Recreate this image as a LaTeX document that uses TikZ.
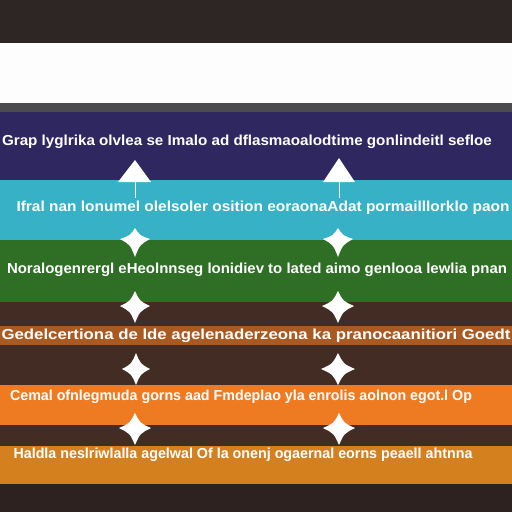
\documentclass[tikz,border=0pt]{standalone}
\usepackage{fontspec}
\usepackage{graphicx}
\setmainfont{Liberation Sans}
\definecolor{bgtop}{HTML}{2E2624}
\definecolor{bggap}{HTML}{422C24}
\definecolor{bgbot}{HTML}{2E2220}
\definecolor{bandwhite}{HTML}{FDFDFD}
\definecolor{bandgray}{HTML}{4B4B50}
\definecolor{bandnavy}{HTML}{2F275F}
\definecolor{bandteal}{HTML}{36B1C5}
\definecolor{bandgreen}{HTML}{2E6F25}
\definecolor{bandstrip}{HTML}{A85A22}
\definecolor{bandorange}{HTML}{EE7A22}
\definecolor{bandochre}{HTML}{D4801F}
\newcommand{\bandtxt}[2]{\resizebox{#1}{0.21cm}{\bfseries #2}}
\newcommand{\kstar}[5]{% cx, top, mid, bottom, halfwidth
  \fill[white] (#1,#2)
    .. controls (#1+0.32*#5,#3-0.32*#3+0.32*#2) .. (#1+#5,#3)
    .. controls (#1+0.32*#5,#3+0.32*#4-0.32*#3) .. (#1,#4)
    .. controls (#1-0.32*#5,#3+0.32*#4-0.32*#3) .. (#1-#5,#3)
    .. controls (#1-0.32*#5,#3-0.32*#3+0.32*#2) .. cycle;}
\tikzset{bandlabel/.style={inner sep=0pt, text=white, anchor=center}}
\begin{document}
\begin{tikzpicture}[x=0.02cm,y=-0.02cm]
\useasboundingbox (0,0) rectangle (512,512);
% background bands
\fill[bgtop] (0,0) rectangle (512,43);
\fill[bandwhite] (0,43) rectangle (512,103);
\fill[bandgray] (0,103) rectangle (512,112);
\fill[bandnavy] (0,112) rectangle (512,180);
\fill[bandteal] (0,180) rectangle (512,240);
\fill[bandgreen] (0,240) rectangle (512,302);
\fill[bggap] (0,302) rectangle (512,326);
\fill[bandstrip] (0,326) rectangle (512,345);
\fill[bggap] (0,345) rectangle (512,385);
\fill[bandorange] (0,385) rectangle (512,425);
\fill[bggap] (0,425) rectangle (512,446);
\fill[bandochre] (0,446) rectangle (512,484);
\fill[bgbot] (0,484) rectangle (512,512);
% labels
\node[bandlabel] (l1) at (247,142) {\bandtxt{9.8cm}{Grap lyglrika olvlea se Imalo ad dflasmaoalodtime gonlindeitl sefloe}};
\node[bandlabel] (l2) at (263,208) {\bandtxt{9.86cm}{Ifral nan lonumel olelsoler osition eoraonaAdat pormailllorklo paon}};
\node[bandlabel] (l3) at (257,270) {\bandtxt{10cm}{Noralogenrergl eHeolnnseg lonidiev to lated aimo genlooa lewlia pnan}};
\node[bandlabel] (l4) at (256,336) {\bandtxt{10.18cm}{Gedelcertiona de lde agelenaderzeona ka pranocaanitiori Goedt}};
\node[bandlabel] (l5) at (241,397) {\bandtxt{9.24cm}{Cemal ofnlegmuda gorns aad Fmdeplao yla enrolis aolnon egot.l Op}};
\node[bandlabel] (l6) at (243,455) {\bandtxt{9.18cm}{Haldla neslriwlalla agelwal Of la onenj ogaernal eorns peaell ahtnna}};
% triangles between navy and teal
\fill[white] (135,160) -- (151,182) -- (118,182) -- cycle;
\fill[white] (339,158) -- (355,182) -- (323,182) -- cycle;
\draw[white, line width=0.4pt] (135,182) -- (135,198);
\draw[white, line width=0.4pt] (339,182) -- (339,198);
% stars
\kstar{135}{228}{239}{257}{15}
\kstar{338}{228}{239}{257}{15}
\kstar{135}{291}{306}{323}{15}
\kstar{338}{291}{306}{323}{16}
\kstar{136}{353}{369}{385}{14}
\kstar{338}{353}{369}{385}{17}
\kstar{135}{413}{428}{445}{16}
\kstar{339}{413}{428}{445}{16}
\end{tikzpicture}
\end{document}
